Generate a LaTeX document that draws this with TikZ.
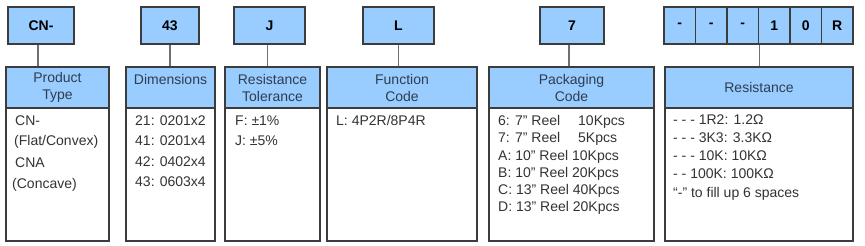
\documentclass[tikz,border=0pt]{standalone}
\usepackage{fontspec}
\setmainfont{Liberation Sans}
\definecolor{boxblue}{HTML}{99CCFF}
\definecolor{bordercol}{HTML}{3C3C3C}
\definecolor{linecol}{HTML}{707070}
\definecolor{txtcol}{HTML}{333333}
\definecolor{hdrcol}{HTML}{2F3D50}
\begin{document}
\begin{tikzpicture}[x=1pt,y=-1pt,
  topbox/.style={draw=bordercol,fill=boxblue,line width=1.3pt,inner sep=0pt,minimum height=37pt,font=\fontsize{14}{16}\selectfont\bfseries,text=black},
  hdrbox/.style={draw=bordercol,fill=boxblue,line width=1.3pt,inner sep=0pt,minimum height=41pt,align=center,font=\fontsize{14}{17}\selectfont,text=hdrcol},
  bodybox/.style={draw=bordercol,fill=white,line width=1.3pt,inner sep=0pt,minimum height=133pt},
  conn/.style={draw=linecol,line width=1.3pt},
  bodytxt/.style={anchor=base west,inner sep=0pt,font=\fontsize{14}{17}\selectfont,text=txtcol}]
\useasboundingbox (0,0) rectangle (865,246);
% top boxes
\node[topbox,minimum width=66pt] (cn) at (41,25.5) {CN-};
\node[topbox,minimum width=58pt] (dim) at (170,25.5) {43};
\node[topbox,minimum width=71pt] (tol) at (269.5,25.5) {J};
\node[topbox,minimum width=71pt] (fun) at (398.5,25.5) {L};
\node[topbox,minimum width=64pt] (pk) at (572,25.5) {7};
\node[topbox,minimum width=31.5pt] (r1) at (679.75,25.5) {-};
\node[topbox,minimum width=31.5pt] (r2) at (711.25,25.5) {-};
\node[topbox,minimum width=31.5pt] (r3) at (742.75,25.5) {-};
\node[topbox,minimum width=31.5pt] (r4) at (774.25,25.5) {1};
\node[topbox,minimum width=31.5pt] (r5) at (805.75,25.5) {0};
\node[topbox,minimum width=31.5pt] (r6) at (837.25,25.5) {R};
% headers
\node[hdrbox,minimum width=103pt] (hpt) at (57.5,87.5) {Product\\Type};
\node[hdrbox,minimum width=89pt] (hdim) at (170.5,87.5) {Dimensions\\\mbox{}};
\node[hdrbox,minimum width=95pt] (htol) at (272.5,87.5) {Resistance\\Tolerance};
\node[hdrbox,minimum width=150pt] (hfun) at (402,87.5) {Function\\Code};
\node[hdrbox,minimum width=165pt] (hpk) at (571.5,87.5) {Packaging\\Code};
\node[hdrbox,minimum width=188pt] (hres) at (759,87.5) {Resistance};
% bodies
\node[bodybox,minimum width=103pt] (bpt) at (57.5,174.5) {};
\node[bodybox,minimum width=89pt] (bdim) at (170.5,174.5) {};
\node[bodybox,minimum width=95pt] (btol) at (272.5,174.5) {};
\node[bodybox,minimum width=150pt] (bfun) at (402,174.5) {};
\node[bodybox,minimum width=165pt] (bpk) at (571.5,174.5) {};
\node[bodybox,minimum width=188pt] (bres) at (759,174.5) {};
% redraw headers on top of bodies' borders
\node[hdrbox,minimum width=103pt] at (57.5,87.5) {Product\\Type};
\node[hdrbox,minimum width=89pt] at (170.5,87.5) {Dimensions\\\mbox{}};
\node[hdrbox,minimum width=95pt] at (272.5,87.5) {Resistance\\Tolerance};
\node[hdrbox,minimum width=150pt] at (402,87.5) {Function\\Code};
\node[hdrbox,minimum width=165pt] at (571.5,87.5) {Packaging\\Code};
\node[hdrbox,minimum width=188pt] at (759,87.5) {Resistance};
% connectors
\draw[conn] ([xshift=-3pt]cn.south) -- ([xshift=-3pt]cn.south |- hpt.north);
\draw[conn] (dim.south) -- (dim.south |- hdim.north);
\draw[conn] ([xshift=-2pt]tol.south) -- ([xshift=-2pt]tol.south |- htol.north);
\draw[conn] (fun.south) -- (fun.south |- hfun.north);
\draw[conn] ([xshift=-3pt]pk.south) -- ([xshift=-3pt]pk.south |- hpk.north);
\draw[conn] (r3.south east) -- (r3.south east |- hres.north);
% body texts
\node[bodytxt] (t1a) at (15,125) {CN-};
\node[bodytxt] (t1b) at (14,145) {(Flat/Convex)};
\node[bodytxt] (t1c) at (15,167) {CNA};
\node[bodytxt] (t1d) at (12,188) {(Concave)};
\node[bodytxt] (t2a) at (135,125) {21: 0201x2};
\node[bodytxt] (t2b) at (135,145) {41: 0201x4};
\node[bodytxt] (t2c) at (135,166) {42: 0402x4};
\node[bodytxt] (t2d) at (135,186) {43: 0603x4};
\node[bodytxt] (t3a) at (235,125) {F: ±1\%};
\node[bodytxt] (t3b) at (235,145) {J: ±5\%};
\node[bodytxt] (t4a) at (336,125) {L: 4P2R/8P4R};
\node[bodytxt] (t5a) at (498,125) {6: 7” Reel};
\node[bodytxt] (t5a2) at (578,125) {10Kpcs};
\node[bodytxt] (t5b) at (498,142) {7: 7” Reel};
\node[bodytxt] (t5b2) at (578,142) {5Kpcs};
\node[bodytxt] (t5c) at (498,160) {A: 10” Reel 10Kpcs};
\node[bodytxt] (t5d) at (498,177) {B: 10” Reel 20Kpcs};
\node[bodytxt] (t5e) at (498,194) {C: 13” Reel 40Kpcs};
\node[bodytxt] (t5f) at (498,211) {D: 13” Reel 20Kpcs};
\node[bodytxt] (t6a) at (673,124) {- - - 1R2: 1.2Ω};
\node[bodytxt] (t6b) at (673,142) {- - - 3K3: 3.3KΩ};
\node[bodytxt] (t6c) at (673,160) {- - - 10K: 10KΩ};
\node[bodytxt] (t6d) at (673,178) {- - 100K: 100KΩ};
\node[bodytxt] (t6e) at (673,197) {“-” to fill up 6 spaces};
\end{tikzpicture}
\end{document}
